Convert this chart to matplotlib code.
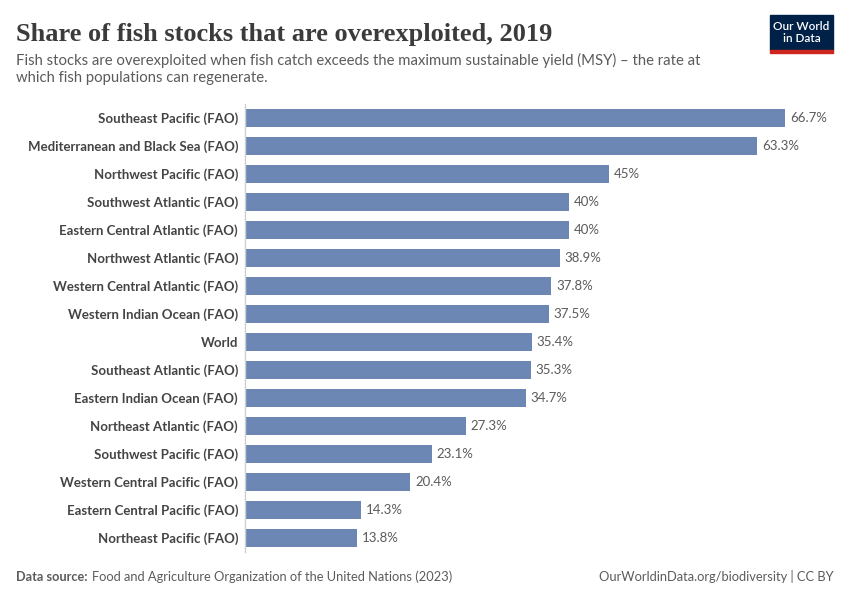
import matplotlib.pyplot as plt
from matplotlib.patches import Rectangle

regions = ['Southeast Pacific (FAO)', 'Mediterranean and Black Sea (FAO)',
           'Northwest Pacific (FAO)', 'Southwest Atlantic (FAO)',
           'Eastern Central Atlantic (FAO)', 'Northwest Atlantic (FAO)',
           'Western Central Atlantic (FAO)', 'Western Indian Ocean (FAO)',
           'World', 'Southeast Atlantic (FAO)', 'Eastern Indian Ocean (FAO)',
           'Northeast Atlantic (FAO)', 'Southwest Pacific (FAO)',
           'Western Central Pacific (FAO)', 'Eastern Central Pacific (FAO)',
           'Northeast Pacific (FAO)']
shares = [66.7, 63.3, 45, 40, 40, 38.9, 37.8, 37.5, 35.4, 35.3, 34.7,
          27.3, 23.1, 20.4, 14.3, 13.8]
value_labels = ['66.7%', '63.3%', '45%', '40%', '40%', '38.9%', '37.8%',
                '37.5%', '35.4%', '35.3%', '34.7%', '27.3%', '23.1%',
                '20.4%', '14.3%', '13.8%']

plt.rcParams['font.family'] = ['Lato', 'DejaVu Sans']

fig = plt.figure(figsize=(8.5, 6), dpi=100)
W, H = 850, 600
ax = fig.add_axes([245 / W, 1 - 552 / H, 540 / W, 448 / H])

ypos = list(range(len(regions)))
ax.barh(ypos, shares, height=0.64, color='#6d87b4', zorder=2)
ax.set_ylim(len(regions) - 0.5, -0.5)
ax.set_xlim(0, 66.7)

for y, v, lab in zip(ypos, shares, value_labels):
    ax.text(v + 0.6, y, lab, va='center', ha='left', fontsize=9.5, color='#5b5b5b')

ax.set_yticks(ypos)
ax.set_yticklabels(regions, fontsize=9.5, color='#444444', fontweight='bold')
ax.tick_params(axis='y', length=0, pad=5)
ax.set_xticks([])
for s in ['top', 'right', 'bottom']:
    ax.spines[s].set_visible(False)
ax.spines['left'].set_color('#d0d0d0')
ax.spines['left'].set_linewidth(1)

fig.text(16 / W, 1 - 41 / H, 'Share of fish stocks that are overexploited, 2019',
         family=['Liberation Serif', 'DejaVu Serif'], fontweight='bold',
         fontsize=19, color='#3b3b3b', va='baseline')
fig.text(16 / W, 1 - 53 / H,
         'Fish stocks are overexploited when fish catch exceeds the maximum sustainable yield (MSY) \u2013 the rate at\nwhich fish populations can regenerate.',
         fontsize=10.7, color='#5b5b5b', va='top', linespacing=1.3)

fig.text(16 / W, 1 - 581 / H, 'Data source:', fontsize=9.2, color='#5b5b5b',
         fontweight='bold', va='baseline')
fig.text(92 / W, 1 - 581 / H,
         'Food and Agriculture Organization of the United Nations (2023)',
         fontsize=9.3, color='#5b5b5b', va='baseline')
fig.text(834 / W, 1 - 581 / H, 'OurWorldinData.org/biodiversity | CC BY',
         fontsize=9.3, color='#5b5b5b', va='baseline', ha='right')

# logo
fig.patches.append(Rectangle((770 / W, 1 - 50 / H), 63 / W, 35 / H,
                             transform=fig.transFigure, color='#002147'))
fig.patches.append(Rectangle((770 / W, 1 - 53 / H), 63 / W, 3 / H,
                             transform=fig.transFigure, color='#ce261e'))
fig.text(801.5 / W, 1 - 32.5 / H, 'Our World\nin Data', ha='center', va='center',
         fontsize=8.5, color='white', fontweight='semibold', linespacing=1.05)

fig.savefig('out.png', dpi=100)
